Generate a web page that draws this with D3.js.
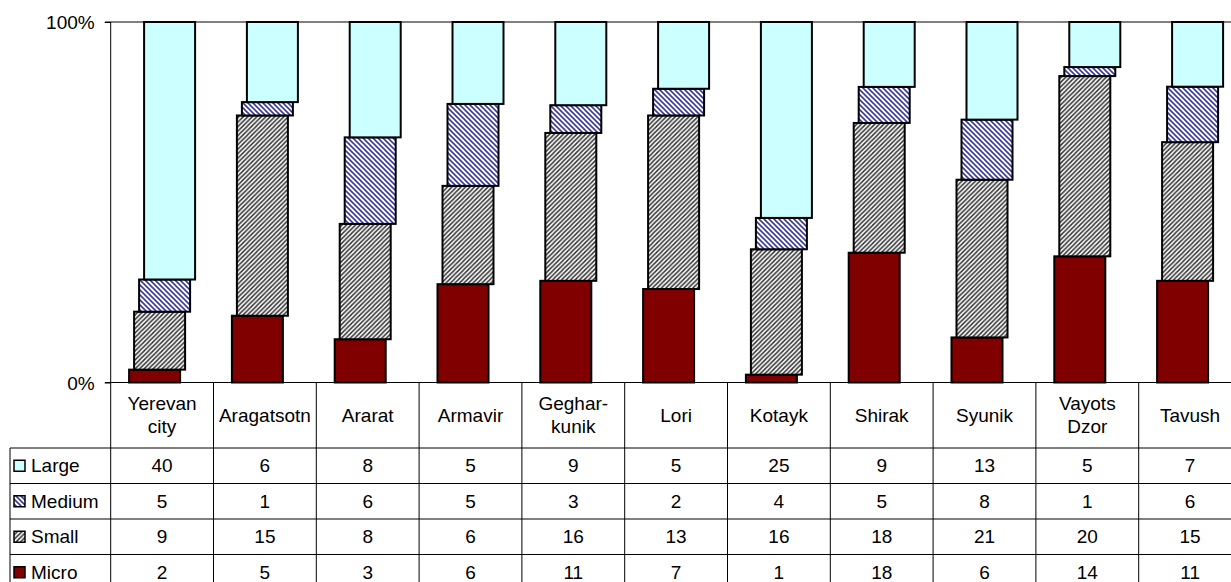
<!DOCTYPE html>
<html>
<head>
<meta charset="utf-8">
<script src="https://cdn.jsdelivr.net/npm/d3@7"></script>
<style>
  html, body { margin: 0; padding: 0; background: #fff; }
  svg { display: block; }
  text { font-family: "Liberation Sans", Arial, sans-serif; fill: #000; }
</style>
</head>
<body>
<svg id="chart" width="1231" height="582"></svg>
<script>
// Enterprises by size and region (counts), shown as 100% stacked columns with a data table
const categories = ["Yerevan city", "Aragatsotn", "Ararat", "Armavir", "Geghar-kunik", "Lori",
                    "Kotayk", "Shirak", "Syunik", "Vayots Dzor", "Tavush"];
const headerLines = [["Yerevan", "city"], ["Aragatsotn"], ["Ararat"], ["Armavir"], ["Geghar-", "kunik"],
                     ["Lori"], ["Kotayk"], ["Shirak"], ["Syunik"], ["Vayots", "Dzor"], ["Tavush"]];
const seriesNames = ["Large", "Medium", "Small", "Micro"];
const large  = [40, 6, 8, 5, 9, 5, 25, 9, 13, 5, 7];
const medium = [5, 1, 6, 5, 3, 2, 4, 5, 8, 1, 6];
const small  = [9, 15, 8, 6, 16, 13, 16, 18, 21, 20, 15];
const micro  = [2, 5, 3, 6, 11, 7, 1, 18, 6, 14, 11];
const yTicks = [0, 1];

const svg = d3.select("#chart");
const plotLeft = 110.7, catW = 102.8;
const plotTop = 22, plotBottom = 382.5;
const tableLeft = 10, headerBottom = 448, rowH = 35.5;

// Fill patterns
const defs = svg.append("defs");
const pSmall = defs.append("pattern").attr("id", "pat-small")
  .attr("patternUnits", "userSpaceOnUse").attr("width", 4.5).attr("height", 4.5);
pSmall.append("rect").attr("width", 4.5).attr("height", 4.5).attr("fill", "#fff");
pSmall.append("path").attr("d", "M-1,1 L1,-1 M0,4.5 L4.5,0 M3.5,5.5 L5.5,3.5")
  .attr("stroke", "#333").attr("stroke-width", 1.5);
const pMed = defs.append("pattern").attr("id", "pat-medium")
  .attr("patternUnits", "userSpaceOnUse").attr("width", 5).attr("height", 5);
pMed.append("rect").attr("width", 5).attr("height", 5).attr("fill", "#fff");
pMed.append("path").attr("d", "M-1,4 L1,6 M0,0 L5,5 M4,-1 L6,1")
  .attr("stroke", "#3a3aa0").attr("stroke-width", 1.6);

const fills = { Large: "#ccffff", Medium: "url(#pat-medium)", Small: "url(#pat-small)", Micro: "#800000" };
const offsets = { Micro: -7.5, Small: -2.5, Medium: 2.5, Large: 7.5 };
const barW = 51;

const x = d3.scaleBand().domain(categories)
  .range([plotLeft, plotLeft + catW * categories.length]).padding(0);
const y = d3.scaleLinear().domain([0, 1]).range([plotBottom, plotTop]);

const rows = categories.map((c, i) => ({
  cat: c, Large: large[i], Medium: medium[i], Small: small[i], Micro: micro[i]
}));
const stack = d3.stack().keys(["Micro", "Small", "Medium", "Large"]).offset(d3.stackOffsetExpand);
const layers = stack(rows);

// Plot frame: top border line and the y axis line running down through the table
svg.append("line").attr("x1", 105).attr("x2", 1231).attr("y1", plotTop).attr("y2", plotTop)
  .attr("stroke", "#000").attr("stroke-width", 1);

// Bars
const g = svg.append("g");
layers.forEach(layer => {
  g.selectAll(null).data(layer).enter().append("rect")
    .attr("x", d => x(d.data.cat) + x.bandwidth() / 2 + offsets[layer.key] - barW / 2)
    .attr("y", d => y(d[1]))
    .attr("width", barW)
    .attr("height", d => y(d[0]) - y(d[1]))
    .attr("fill", fills[layer.key])
    .attr("stroke", "#000")
    .attr("stroke-width", 2);
});

// Y axis
const yAxis = d3.axisLeft(y).tickValues(yTicks).tickFormat(d3.format(".0%")).tickSize(6).tickPadding(10);
const ya = svg.append("g").attr("transform", `translate(${plotLeft},0)`).call(yAxis);
ya.select(".domain").remove();
ya.selectAll(".tick line").attr("stroke", "#000");
ya.selectAll(".tick text").style("font-size", "19px").attr("dy", "0.35em");

// Data table lines
const tableRight = plotLeft + catW * categories.length;
const lines = svg.append("g").attr("stroke", "#000").attr("stroke-width", 1);
lines.append("line").attr("x1", 105).attr("x2", tableRight).attr("y1", plotBottom).attr("y2", plotBottom);
for (let r = 0; r < seriesNames.length; r++) {
  const yy = headerBottom + r * rowH;
  lines.append("line").attr("x1", tableLeft).attr("x2", tableRight).attr("y1", yy).attr("y2", yy);
}
lines.append("line").attr("x1", tableLeft).attr("x2", tableLeft).attr("y1", headerBottom).attr("y2", 582);
lines.append("line").attr("x1", plotLeft).attr("x2", plotLeft).attr("y1", plotTop).attr("y2", 582);
categories.forEach(c => {
  const xr = x(c) + x.bandwidth();
  lines.append("line").attr("x1", xr).attr("x2", xr).attr("y1", plotBottom).attr("y2", 582);
});

// Category headers
const headerMid = (plotBottom + headerBottom) / 2;
categories.forEach((c, i) => {
  const ls = headerLines[i];
  const t = svg.append("text").attr("text-anchor", "middle")
    .attr("x", x(c) + x.bandwidth() / 2).style("font-size", "19px");
  ls.forEach((s, k) => {
    t.append("tspan").attr("x", x(c) + x.bandwidth() / 2)
      .attr("y", headerMid + (k - (ls.length - 1) / 2) * 23)
      .attr("dy", "0.35em").text(s);
  });
});

// Table rows: legend key, name and values
const seriesData = { Large: large, Medium: medium, Small: small, Micro: micro };
seriesNames.forEach((name, r) => {
  const cy = headerBottom + r * rowH + rowH / 2;
  svg.append("rect").attr("x", 14).attr("y", cy - 5.5).attr("width", 11).attr("height", 11)
    .attr("fill", fills[name]).attr("stroke", "#000").attr("stroke-width", 1.5);
  svg.append("text").attr("x", 31).attr("y", cy).attr("dy", "0.35em")
    .style("font-size", "19px").text(name);
  seriesData[name].forEach((v, i) => {
    svg.append("text").attr("text-anchor", "middle")
      .attr("x", x(categories[i]) + x.bandwidth() / 2).attr("y", cy).attr("dy", "0.35em")
      .style("font-size", "19px").text(v);
  });
});
</script>
</body>
</html>
